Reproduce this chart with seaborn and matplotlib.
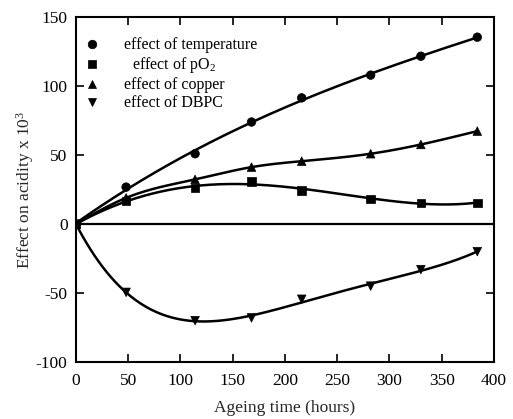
import numpy as np
import pandas as pd
import matplotlib
matplotlib.use("Agg")
import matplotlib.pyplot as plt
import seaborn as sns

# ---- data ----
hours = [0, 48, 114, 168, 216, 282, 330, 384]
temperature = [0, 26.8, 51, 74, 91.5, 108, 121.7, 135.5]
po2 = [0, 16.7, 26.3, 31, 24.4, 18.3, 15.4, 15.4]
copper = [0, 19, 32.4, 41.3, 45.6, 51, 57.7, 67.4]
dbpc = [0, -49.5, -70, -68, -54.5, -45, -33, -20]

series_names = ["effect of temperature", "  effect of pO$_2$", "effect of copper", "effect of DBPC"]
series_values = [temperature, po2, copper, dbpc]
fit_method = ["poly3", "poly4", "spline", "poly4"]
marker_shapes = ["o", "s", "^", "v"]

x_ticks = [0, 50, 100, 150, 200, 250, 300, 350, 400]
y_ticks = [-100, -50, 0, 50, 100, 150]


def natural_spline(x, y, xs):
    x = np.asarray(x, float)
    y = np.asarray(y, float)
    n = len(x)
    h = np.diff(x)
    A = np.zeros((n, n))
    b = np.zeros(n)
    A[0, 0] = A[-1, -1] = 1
    for i in range(1, n - 1):
        A[i, i - 1] = h[i - 1]
        A[i, i] = 2 * (h[i - 1] + h[i])
        A[i, i + 1] = h[i]
        b[i] = 6 * ((y[i + 1] - y[i]) / h[i] - (y[i] - y[i - 1]) / h[i - 1])
    M = np.linalg.solve(A, b)
    idx = np.clip(np.searchsorted(x, xs) - 1, 0, n - 2)
    x0, x1 = x[idx], x[idx + 1]
    hh = x1 - x0
    t0, t1 = x1 - xs, xs - x0
    return (M[idx] * t0 ** 3 / (6 * hh) + M[idx + 1] * t1 ** 3 / (6 * hh)
            + (y[idx] / hh - M[idx] * hh / 6) * t0
            + (y[idx + 1] / hh - M[idx + 1] * hh / 6) * t1)


sns.set_theme(style="ticks")
plt.rcParams["font.family"] = ["Liberation Serif", "DejaVu Serif"]
plt.rcParams["mathtext.fontset"] = "custom"
plt.rcParams["mathtext.rm"] = "Liberation Serif"
plt.rcParams["mathtext.it"] = "Liberation Serif:italic"
plt.rcParams["axes.unicode_minus"] = False

fig = plt.figure(figsize=(5.13, 4.19), dpi=100)
ax = fig.add_axes([0.148, 0.136, 0.815, 0.823])

points = pd.DataFrame({
    "hours": np.tile(hours, len(series_names)),
    "value": np.concatenate(series_values),
    "series": np.repeat(series_names, len(hours)),
})

# smooth fitted curves
grid = np.linspace(0, max(hours), 300)
curves = []
for name, vals, method in zip(series_names, series_values, fit_method):
    if method == "spline":
        fitted = natural_spline(hours, vals, grid)
    else:
        coef = np.polyfit(hours, vals, int(method[-1]))
        fitted = np.polyval(coef, grid)
        fitted[0] = vals[0]
    curves.append(pd.DataFrame({"hours": grid, "value": fitted, "series": name}))
curves = pd.concat(curves, ignore_index=True)

sns.lineplot(data=curves, x="hours", y="value", units="series", estimator=None,
             color="black", linewidth=1.8, ax=ax, legend=False, sort=False)

# zero reference line
zero_df = pd.DataFrame({"hours": [0, 400], "value": [0, 0]})
sns.lineplot(data=zero_df, x="hours", y="value", color="black", linewidth=1.6, ax=ax)

sns.scatterplot(data=points, x="hours", y="value", style="series", markers=marker_shapes,
                style_order=series_names, color="black", s=38, edgecolor="black",
                linewidth=0.5, ax=ax, zorder=5)

ax.set_xlim(0, 400)
ax.set_ylim(-100, 150)
ax.set_xticks(x_ticks)
ax.set_yticks(y_ticks)
ax.tick_params(direction="in", length=6, width=1.2, labelsize=12.5,
               top=True, right=True, color="black", labelcolor="black", pad=6)
ax.tick_params(axis="x", pad=8)
for sp in ax.spines.values():
    sp.set_linewidth(1.5)
    sp.set_color("black")

ax.set_xlabel("Ageing time (hours)", fontsize=12.5, labelpad=8)
ax.set_ylabel("Effect on acidity x 10$^3$", fontsize=12.5, labelpad=0)

handles, labels = ax.get_legend_handles_labels()
leg = ax.legend(handles, labels, loc="upper left", frameon=False, fontsize=11.5,
                handletextpad=1.4, labelspacing=0.12, borderaxespad=0.0,
                bbox_to_anchor=(0.0, 0.96), markerscale=1.0, handlelength=1.2)
for t in leg.get_texts():
    t.set_color("black")

fig.savefig("out.png", dpi=100)
